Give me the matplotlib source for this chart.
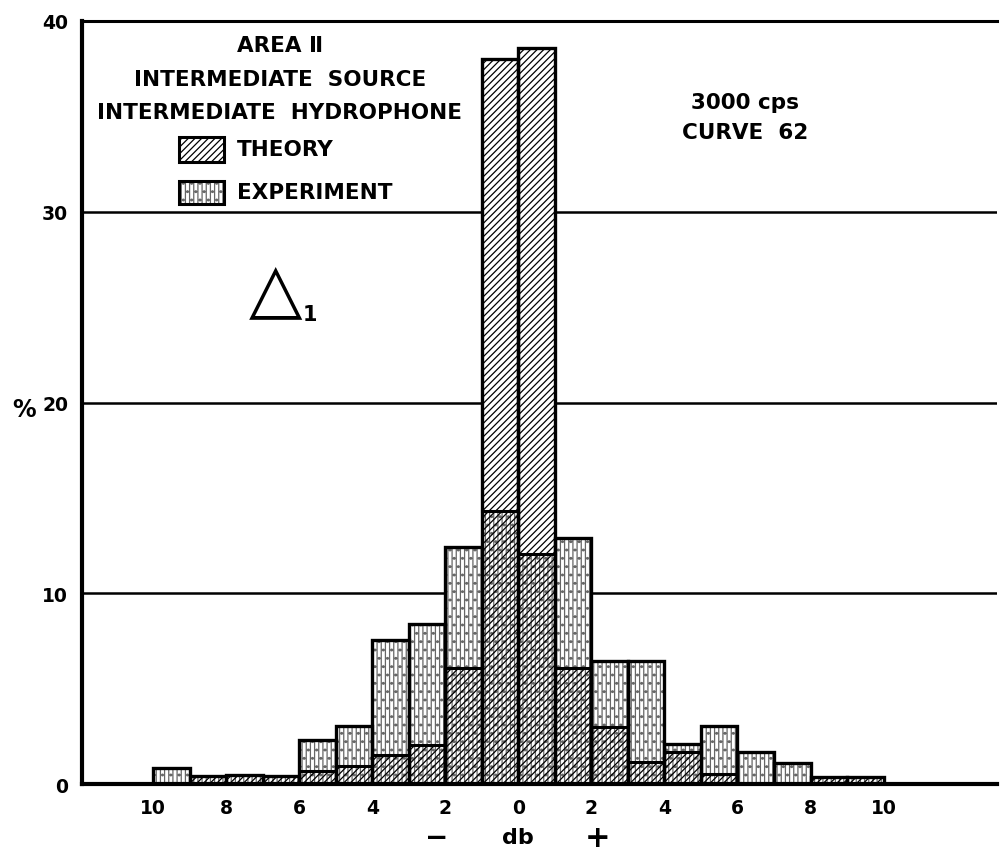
import matplotlib
matplotlib.use('Agg')
import matplotlib.pyplot as plt
from matplotlib.patches import Rectangle

# bins are 1 db wide, left edges from -10 to 9
bin_left = list(range(-10, 10))
theory = [0.0, 0.4, 0.45, 0.4, 0.7, 0.95, 1.5, 2.05, 6.1, 38.0,
          38.6, 6.1, 3.0, 1.15, 1.7, 0.5, 0.0, 0.0, 0.35, 0.35]
experiment = [0.85, 0.4, 0.4, 0.4, 2.3, 3.05, 7.55, 8.4, 12.4, 14.3,
              12.05, 12.9, 6.45, 6.45, 2.1, 3.05, 1.7, 1.1, 0.3, 0.3]

xtick_pos = [-10, -8, -6, -4, -2, 0, 2, 4, 6, 8, 10]
xtick_lab = ['10', '8', '6', '4', '2', '0', '2', '4', '6', '8', '10']
ytick_pos = [0, 10, 20, 30, 40]

TH_HATCH = '/////'
EX_HATCH = '||||..'

plt.rcParams['hatch.linewidth'] = 0.9
plt.rcParams['font.family'] = ['DejaVu Sans']

fig = plt.figure(figsize=(10.02, 8.62), dpi=100)
ax = fig.add_axes([0.0818, 0.0893, 0.913, 0.8852])

# horizontal rules behind the bars
for yv in ytick_pos[1:-1]:
    ax.axhline(yv, color='black', lw=1.8, zorder=0)

tops = [max(t, e) for t, e in zip(theory, experiment)]
ax.bar(bin_left, tops, width=1, align='edge', color='white', edgecolor='none', zorder=1)
ax.bar(bin_left, experiment, width=1, align='edge', facecolor='none',
       edgecolor='#666666', hatch=EX_HATCH, lw=0, zorder=2)
ax.bar(bin_left, theory, width=1, align='edge', facecolor='none',
       edgecolor='black', hatch=TH_HATCH, lw=0, zorder=3)
# outlines
ax.bar(bin_left, tops, width=1, align='edge', facecolor='none',
       edgecolor='black', lw=2.4, zorder=4)
for x0, t, e in zip(bin_left, theory, experiment):
    low = min(t, e)
    if low > 0 and abs(t - e) > 0.05:
        ax.plot([x0, x0 + 1], [low, low], color='black', lw=2.2, zorder=4)

ax.set_xlim(-11.95, 13.1)
ax.set_ylim(0, 40)
ax.set_xticks(xtick_pos)
ax.set_xticklabels(xtick_lab, fontsize=13.5, fontweight='bold')
ax.set_yticks(ytick_pos)
ax.set_yticklabels([str(v) for v in ytick_pos], fontsize=13.5, fontweight='bold')
ax.tick_params(length=0, pad=10)
ax.spines['right'].set_visible(False)
ax.spines['left'].set_linewidth(3)
ax.spines['bottom'].set_linewidth(3)
ax.spines['top'].set_linewidth(2.2)

# title block
fs = 15.5
kw = dict(fontsize=fs, fontweight='bold', va='center')
fig.text(0.2794, 0.9466, 'AREA Ⅱ', ha='center', **kw)
fig.text(0.2794, 0.9072, 'INTERMEDIATE  SOURCE', ha='center', **kw)
fig.text(0.2794, 0.869, 'INTERMEDIATE  HYDROPHONE', ha='center', **kw)
fig.patches.append(Rectangle((0.1786, 0.811), 0.0449, 0.029, transform=fig.transFigure,
                             facecolor='white', edgecolor='black', hatch=TH_HATCH, lw=2.2))
fig.patches.append(Rectangle((0.1786, 0.762), 0.0449, 0.0267, transform=fig.transFigure,
                             facecolor='white', edgecolor='#666666', hatch=EX_HATCH, lw=0))
fig.patches.append(Rectangle((0.1786, 0.762), 0.0449, 0.0267, transform=fig.transFigure,
                             facecolor='none', edgecolor='black', lw=2.2))
fig.text(0.2365, 0.826, 'THEORY', ha='left', **kw)
fig.text(0.2365, 0.776, 'EXPERIMENT', ha='left', **kw)

fig.text(0.7435, 0.8805, '3000 cps', ha='center', **kw)
fig.text(0.7435, 0.8457, 'CURVE  62', ha='center', **kw)

fig.text(0.2745, 0.663, '△', ha='center', va='center', fontsize=50)
fig.text(0.309, 0.6345, '1', ha='center', va='center', fontsize=15, fontweight='bold')

fig.text(0.012, 0.5244, '%', ha='left', va='center', fontsize=17, fontweight='bold')
fig.text(0.436, 0.0278, '−', ha='center', va='center', fontsize=20, fontweight='bold')
fig.text(0.517, 0.0278, 'db', ha='center', va='center', fontsize=16, fontweight='bold')
fig.text(0.596, 0.0278, '+', ha='center', va='center', fontsize=22, fontweight='bold')

fig.savefig('out.png', dpi=100)
